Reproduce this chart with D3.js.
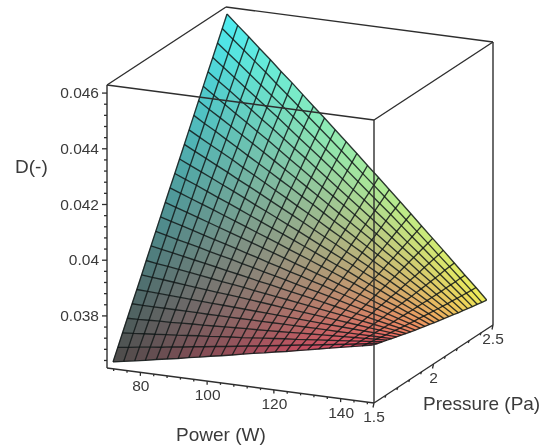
<!DOCTYPE html>
<html>
<head>
<meta charset="utf-8">
<script src="https://cdn.jsdelivr.net/npm/d3@7"></script>
<style>
  html, body { margin: 0; padding: 0; background: #fff; }
  svg { display: block; filter: blur(0.5px); }
  text { font-family: "Liberation Sans", Arial, sans-serif; fill: #3a3a3a; }
</style>
</head>
<body>
<div id="chart"></div>
<script>
'use strict'

// values
let powerValues = [71.2,74.4,77.7,80.9,84.2,87.4,90.7,93.9,97.1,100.4,103.6,106.9,110.1,113.3,116.6,119.8,123.1,126.3,129.5,132.8,136,139.3,142.5,145.8,149];
let pressureValues = [1.517,1.557,1.597,1.637,1.677,1.717,1.757,1.796,1.836,1.876,1.916,1.956,1.996,2.036,2.076,2.116,2.156,2.196,2.236,2.275,2.315,2.355,2.395,2.435,2.475];

// D x 100000, one row per pressure, one column per power
let dRows = [
  [3632,3639,3646,3653,3661,3668,3675,3683,3690,3698,3705,3713,3721,3729,3736,3744,3751,3759,3767,3775,3783,3791,3799,3807,3815],
  [3673,3678,3684,3689,3694,3700,3705,3711,3716,3722,3727,3733,3739,3744,3750,3756,3762,3768,3773,3779,3785,3791,3797,3803,3809],
  [3714,3717,3721,3724,3728,3731,3735,3739,3742,3746,3750,3753,3757,3761,3765,3769,3772,3776,3780,3784,3788,3792,3796,3800,3804],
  [3755,3756,3758,3760,3761,3763,3765,3766,3768,3770,3772,3774,3775,3777,3779,3781,3783,3785,3787,3789,3791,3793,3795,3797,3799],
  [3796,3795,3795,3795,3795,3795,3795,3794,3794,3794,3794,3794,3794,3794,3794,3794,3794,3794,3794,3793,3793,3793,3793,3793,3793],
  [3836,3834,3832,3830,3828,3826,3824,3822,3820,3818,3816,3814,3812,3810,3808,3806,3804,3802,3800,3798,3796,3794,3792,3790,3788],
  [3877,3873,3870,3866,3862,3858,3854,3850,3847,3843,3839,3835,3831,3827,3823,3819,3815,3811,3807,3803,3799,3795,3791,3787,3783],
  [3918,3912,3907,3901,3896,3890,3884,3878,3873,3867,3861,3855,3849,3844,3838,3832,3826,3820,3814,3808,3802,3796,3790,3784,3778],
  [3959,3952,3944,3937,3929,3922,3914,3906,3899,3891,3883,3876,3868,3860,3853,3845,3837,3829,3821,3813,3805,3797,3789,3781,3773],
  [4000,3991,3981,3972,3963,3953,3944,3935,3925,3916,3906,3896,3887,3877,3867,3858,3848,3838,3828,3818,3808,3798,3788,3778,3768],
  [4041,4030,4019,4008,3996,3985,3974,3963,3951,3940,3928,3917,3905,3894,3882,3871,3859,3847,3835,3823,3812,3800,3788,3776,3764],
  [4082,4069,4056,4043,4030,4017,4004,3991,3978,3964,3951,3938,3924,3911,3897,3884,3870,3856,3843,3829,3815,3801,3787,3773,3759],
  [4123,4108,4093,4079,4064,4049,4034,4019,4004,3989,3974,3958,3943,3928,3912,3897,3881,3866,3850,3834,3818,3803,3787,3771,3755],
  [4163,4147,4131,4114,4097,4081,4064,4047,4030,4013,3996,3979,3962,3945,3927,3910,3893,3875,3857,3840,3822,3804,3786,3768,3750],
  [4204,4186,4168,4150,4131,4113,4094,4075,4057,4038,4019,4000,3981,3962,3942,3923,3904,3884,3865,3845,3825,3806,3786,3766,3746],
  [4245,4225,4205,4185,4165,4144,4124,4104,4083,4062,4042,4021,4000,3979,3958,3936,3915,3894,3872,3851,3829,3807,3786,3764,3742],
  [4286,4264,4242,4221,4199,4176,4154,4132,4109,4087,4064,4042,4019,3996,3973,3950,3927,3903,3880,3856,3833,3809,3785,3761,3738],
  [4327,4303,4280,4256,4232,4208,4184,4160,4136,4112,4087,4063,4038,4013,3988,3963,3938,3913,3888,3862,3837,3811,3785,3759,3734],
  [4368,4342,4317,4292,4266,4240,4214,4188,4162,4136,4110,4083,4057,4030,4003,3977,3950,3922,3895,3868,3840,3813,3785,3757,3729],
  [4409,4382,4354,4327,4300,4272,4245,4217,4189,4161,4133,4104,4076,4048,4019,3990,3961,3932,3903,3874,3844,3815,3785,3756,3726],
  [4450,4421,4392,4363,4334,4304,4275,4245,4215,4186,4156,4125,4095,4065,4034,4004,3973,3942,3911,3880,3849,3817,3786,3754,3722],
  [4490,4460,4429,4398,4367,4336,4305,4274,4242,4210,4179,4147,4115,4082,4050,4017,3985,3952,3919,3886,3853,3819,3786,3752,3718],
  [4531,4499,4467,4434,4401,4368,4335,4302,4269,4235,4201,4168,4134,4100,4065,4031,3997,3962,3927,3892,3857,3822,3786,3750,3715],
  [4572,4538,4504,4470,4435,4400,4365,4330,4295,4260,4225,4189,4153,4117,4081,4045,4008,3972,3935,3898,3861,3824,3787,3749,3711],
  [4613,4577,4541,4505,4469,4432,4396,4359,4322,4285,4248,4210,4173,4135,4097,4059,4020,3982,3943,3904,3866,3826,3787,3748,3708]
];

let powerTicks = [80,100,120,140];
let pressureTicks = [1.5,2,2.5];
let dTicks = [0.038,0.04,0.042,0.044,0.046];

let powerMinor = [72,76,84,88,92,96,104,108,112,116,124,128,132,136,144,148];
let pressureMinor = [1.6,1.7,1.8,1.9,2.1,2.2,2.3,2.4];
let dMinor = [0.0364,0.0368,0.0372,0.0376,0.0384,0.0388,0.0392,0.0396,0.0404,0.0408,0.0412,0.0416,0.0424,0.0428,0.0432,0.0436,0.0444,0.0448,0.0452,0.0456];

// box projection, corner of the box at power min, pressure min, D min
let origin = [107,368], exVec = [267,35], eyVec = [119,-78], ezVec = [0,-283];
let pMin = 70, pMax = 150, qMin = 1.5, qMax = 2.5, dMin = 0.03613, dMax = 0.04629;

let powerScale = d3.scaleLinear().domain([pMin,pMax]).range([0,1]);
let pressureScale = d3.scaleLinear().domain([qMin,qMax]).range([0,1]);
let dScale = d3.scaleLinear().domain([dMin,dMax]).range([0,1]);

let redScale = d3.scaleLinear().domain([0,1]).range([74,242]);
let greenScale = d3.scaleLinear().domain([0,1]).range([72,242]);
let blueScale = d3.scaleLinear().domain([0,1]).range([70,246]);

function project(power, pressure, dval) {
	let a = powerScale(power), b = pressureScale(pressure), c = dScale(dval);
	return [
		origin[0]+a*exVec[0]+b*eyVec[0]+c*ezVec[0],
		origin[1]+a*exVec[1]+b*eyVec[1]+c*ezVec[1]
	];
}
function pt(i, j) {
	return project(powerValues[i], pressureValues[j], dRows[j][i]/100000);
}

var svg = d3.select("#chart").append("svg")
	.attr("width",550)
	.attr("height",448);

// surface cells
var cells = [];
for (var j = 0; j < pressureValues.length-1; j++) {
	for (var i = 0; i < powerValues.length-1; i++) {
		cells.push({i:i, j:j});
	}
}
var line = d3.line();

function cellColor(d) {
	let p = (powerValues[d.i]+powerValues[d.i+1])/2;
	let q = (pressureValues[d.j]+pressureValues[d.j+1])/2;
	let z = (dRows[d.j][d.i]+dRows[d.j][d.i+1]+dRows[d.j+1][d.i]+dRows[d.j+1][d.i+1])/400000;
	return d3.rgb(redScale(powerScale(p)), greenScale(pressureScale(q)), blueScale(dScale(z))).formatHex();
}

svg.append("g").selectAll("path")
	.data(cells)
	.enter().append("path")
	.attr("d", function(d) {
		return line([pt(d.i,d.j),pt(d.i+1,d.j),pt(d.i+1,d.j+1),pt(d.i,d.j+1)])+"Z";
	})
	.style("fill", cellColor)
	.style("stroke", cellColor)
	.style("stroke-width",0.5);

// mesh lines
var mesh = svg.append("g")
	.attr("fill","none")
	.attr("stroke","#101818")
	.attr("stroke-opacity",0.85)
	.attr("stroke-width",1.35);
pressureValues.forEach(function(q,j) {
	mesh.append("path").attr("d", line(powerValues.map(function(p,i) { return pt(i,j); })));
});
powerValues.forEach(function(p,i) {
	mesh.append("path").attr("d", line(pressureValues.map(function(q,j) { return pt(i,j); })));
});

// box edges, all in data units
var boxEdges = [
	[[pMin,qMin,dMax],[pMin,qMax,dMax]],
	[[pMin,qMax,dMax],[pMax,qMax,dMax]],
	[[pMax,qMax,dMax],[pMax,qMin,dMax]],
	[[pMax,qMin,dMax],[pMin,qMin,dMax]],
	[[pMin,qMin,dMax],[pMin,qMin,dMin]],
	[[pMin,qMin,dMin],[pMax,qMin,dMin]],
	[[pMax,qMin,dMin],[pMax,qMax,dMin]],
	[[pMax,qMax,dMin],[pMax,qMax,dMax]],
	[[pMax,qMin,dMax],[pMax,qMin,dMin]]
];
svg.append("g").selectAll("path")
	.data(boxEdges)
	.enter().append("path")
	.attr("d", function(e) { return line(e.map(function(v) { return project(v[0],v[1],v[2]); })); })
	.attr("fill","none")
	.attr("stroke","#2e2e2e")
	.attr("stroke-width",1.4);

// ticks
var axisG = svg.append("g").attr("stroke","#2e2e2e").attr("stroke-width",1.3);
function tick(pos, dx, dy) {
	axisG.append("line")
		.attr("x1",pos[0]).attr("y1",pos[1])
		.attr("x2",pos[0]+dx).attr("y2",pos[1]+dy);
}
dTicks.forEach(function(d) { tick(project(pMin,qMin,d),-5,0); });
dMinor.forEach(function(d) { tick(project(pMin,qMin,d),-3,0); });
powerTicks.forEach(function(p) { tick(project(p,qMin,dMin),0,3.5); });
powerMinor.forEach(function(p) { tick(project(p,qMin,dMin),0,2); });
pressureTicks.forEach(function(q) { tick(project(pMax,q,dMin),-1,4.5); });
pressureMinor.forEach(function(q) { tick(project(pMax,q,dMin),-1,2.5); });

// tick labels
dTicks.forEach(function(d) {
	let pos = project(pMin,qMin,d);
	svg.append("text")
		.attr("x",pos[0]-8).attr("y",pos[1]+1)
		.attr("text-anchor","end").attr("dominant-baseline","middle")
		.style("font-size","15.5px")
		.text(d3.format("")(d));
});
powerTicks.forEach(function(p) {
	let pos = project(p,qMin,dMin);
	svg.append("text")
		.attr("x",pos[0]+0.5).attr("y",pos[1]+15)
		.attr("text-anchor","middle").attr("dominant-baseline","middle")
		.style("font-size","15.5px")
		.text(p);
});
pressureTicks.forEach(function(q) {
	let pos = project(pMax,q,dMin);
	svg.append("text")
		.attr("x",pos[0]).attr("y",pos[1]+15)
		.attr("text-anchor","middle").attr("dominant-baseline","middle")
		.style("font-size","15.5px")
		.text(q);
});

// axis titles
svg.append("text").attr("x",15).attr("y",173).style("font-size","19px").text("D(-)");
svg.append("text").attr("x",176).attr("y",441).style("font-size","19px").text("Power (W)");
svg.append("text").attr("x",423).attr("y",410).style("font-size","19px").text("Pressure (Pa)");
</script>
</body>
</html>
